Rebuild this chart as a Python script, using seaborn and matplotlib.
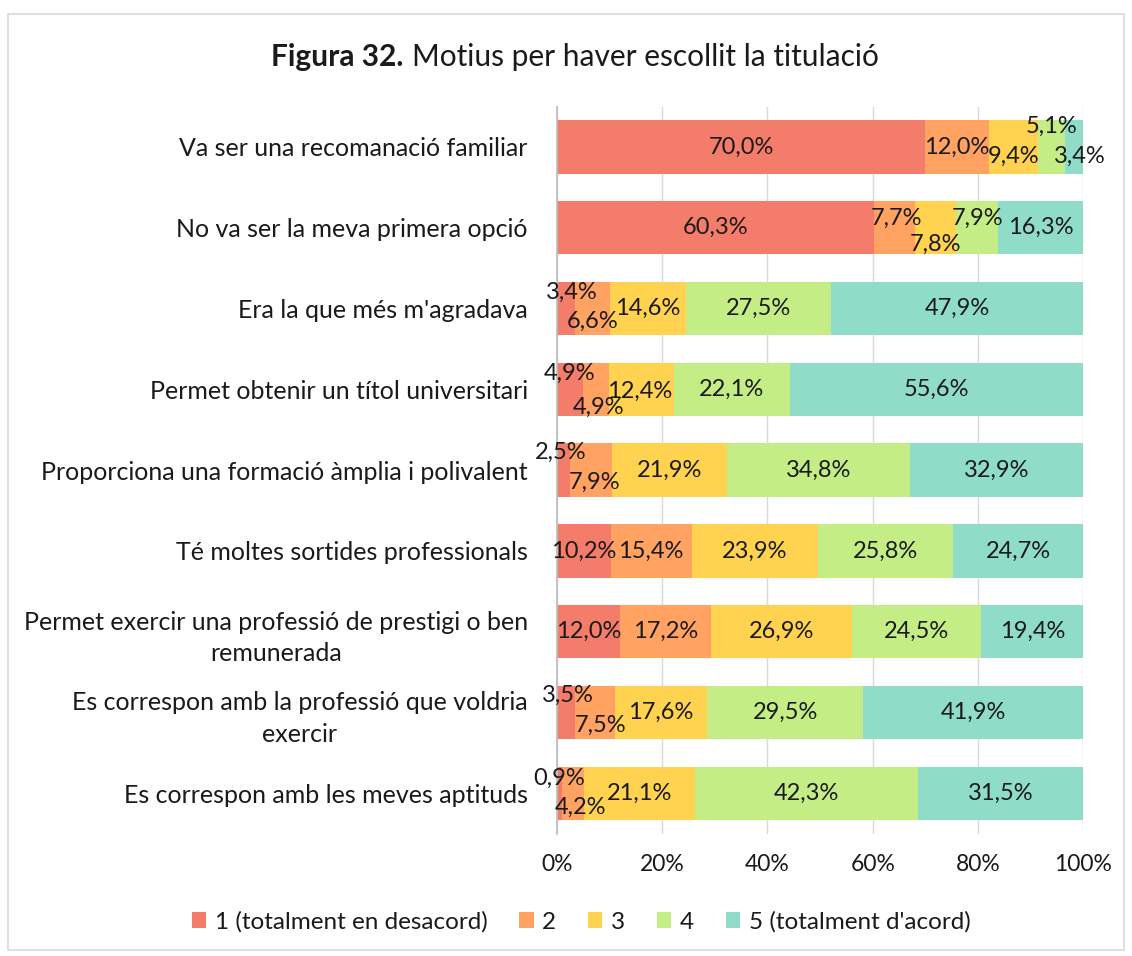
import matplotlib
matplotlib.use("Agg")
import matplotlib.pyplot as plt
import seaborn as sns
import pandas as pd
import numpy as np
from matplotlib.patches import Rectangle, Patch

categories = [
    "Va ser una recomanació familiar",
    "No va ser la meva primera opció",
    "Era la que més m'agradava",
    "Permet obtenir un títol universitari",
    "Proporciona una formació àmplia i polivalent",
    "Té moltes sortides professionals",
    "Permet exercir una professió de prestigi o ben\nremunerada",
    "Es correspon amb la professió que voldria\nexercir",
    "Es correspon amb les meves aptituds",
]
series = ["1 (totalment en desacord)", "2", "3", "4", "5 (totalment d'acord)"]
s1 = [70.0, 60.3, 3.4, 4.9, 2.5, 10.2, 12.0, 3.5, 0.9]
s2 = [12.0, 7.7, 6.6, 4.9, 7.9, 15.4, 17.2, 7.5, 4.2]
s3 = [9.4, 7.8, 14.6, 12.4, 21.9, 23.9, 26.9, 17.6, 21.1]
s4 = [5.1, 7.9, 27.5, 22.1, 34.8, 25.8, 24.5, 29.5, 42.3]
s5 = [3.4, 16.3, 47.9, 55.6, 32.9, 24.7, 19.4, 41.9, 31.5]

colors = ["#F47C6A", "#FFA262", "#FFD34F", "#C4EE85", "#8FDDC8"]

# manual nudges for the labels of thin segments: (row, series) -> (dx %, dy bar units)
nudges = {
    (0, 2): (0, 0.12), (0, 3): (0, -0.26), (0, 4): (1.1, 0.12),
    (1, 1): (0.45, -0.12), (1, 2): (0, 0.2), (1, 3): (0.25, -0.12),
    (2, 0): (1.1, -0.2), (2, 1): (0, 0.16),
    (3, 0): (0, -0.2), (3, 1): (0.5, 0.22), (3, 2): (-0.3, 0.03),
    (4, 0): (-0.55, -0.22), (4, 1): (0.75, 0.15),
    (7, 0): (0.35, -0.21), (7, 1): (0.95, 0.16),
    (8, 0): (0, -0.19), (8, 1): (1.4, 0.17),
}

sns.set_style("white")
plt.rcParams["font.family"] = ["Lato", "DejaVu Sans"]

vals = np.array([s1, s2, s3, s4, s5])
cum = vals.cumsum(axis=0)
df = pd.DataFrame({"cat": categories})
for k in range(5):
    df[f"c{k}"] = cum[k]

fig = plt.figure(figsize=(11.32, 9.56), dpi=100)
ax = fig.add_axes([0.492, 0.128, 0.465, 0.7605])

# draw cumulative bars back to front so they stack
for k in range(4, -1, -1):
    sns.barplot(data=df, x=f"c{k}", y="cat", color=colors[k], width=0.66,
                saturation=1, ax=ax, orient="h", zorder=2, linewidth=0)

for k in range(5):
    for i in range(len(categories)):
        v = vals[k, i]
        xc = cum[k, i] - v / 2
        dx, dy = nudges.get((i, k), (0, 0))
        ax.text(xc + dx, i + dy, f"{v:.1f}%".replace(".", ","),
                ha="center", va="center", fontsize=17, color="#1a1a1a", zorder=5)

ax.set_xlim(0, 100)
ax.set_ylim(8.5, -0.5)
ax.set_xticks(range(0, 101, 20))
ax.set_xticklabels([f"{t}%" for t in range(0, 101, 20)])
ax.grid(axis="x", color="#D9D9D9", linewidth=1, zorder=0)
ax.set_axisbelow(True)
for s in ["top", "right", "bottom"]:
    ax.spines[s].set_visible(False)
ax.spines["left"].set_color("#BFBFBF")
ax.spines["left"].set_linewidth(1.3)
ax.set_xlabel("")
ax.set_ylabel("")
ax.tick_params(axis="y", length=0, pad=21, labelsize=18, labelcolor="#1a1a1a")
ax.tick_params(axis="x", length=0, pad=15, labelsize=16.5, labelcolor="#1a1a1a")
for lab in ax.get_yticklabels():
    lab.set_horizontalalignment("right")
    lab.set_multialignment("center")
    lab.set_linespacing(1.45)

fig.text(403 / 1132, 0.94, "Figura 32.", ha="right", va="center",
         fontsize=21.5, fontweight="bold", color="#1a1a1a")
fig.text(412 / 1132, 0.94, "Motius per haver escollit la titulació", ha="left",
         va="center", fontsize=21.5, color="#1a1a1a")

handles = [Patch(facecolor=c, edgecolor="none") for c in colors]
fig.legend(handles, series, loc="center", bbox_to_anchor=(581 / 1132, 1 - 922 / 956),
           ncol=5, frameon=False, fontsize=17.5, handlelength=0.6, handleheight=0.6,
           handletextpad=0.35, columnspacing=1.3, labelcolor="#1a1a1a")

fig.patches.append(Rectangle((8 / 1132, 6 / 956), 1116 / 1132, 936 / 956,
                             transform=fig.transFigure, fill=False,
                             edgecolor="#D9D9D9", linewidth=1.2))

fig.savefig("out.png", dpi=100)
